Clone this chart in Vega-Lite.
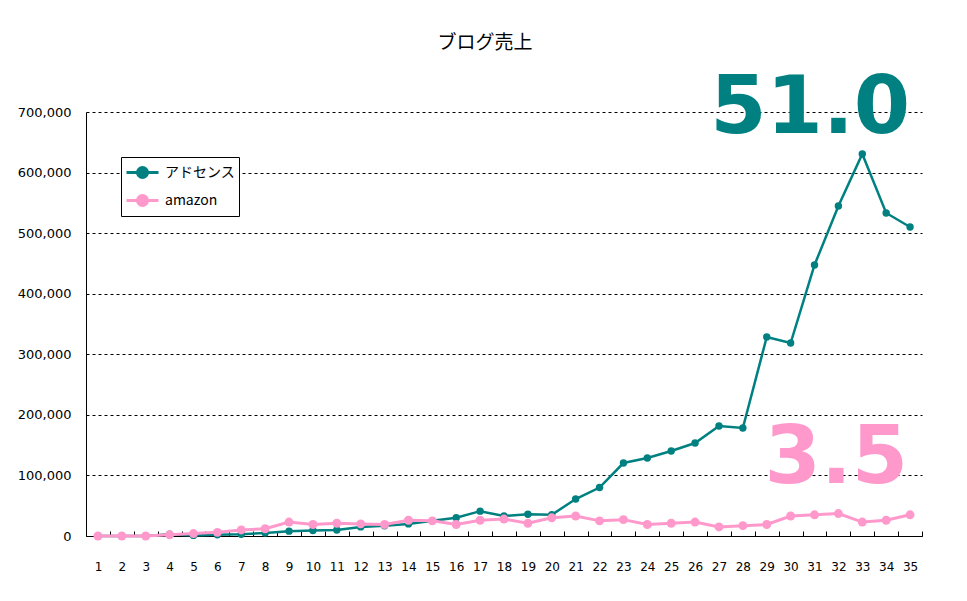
{
  "$schema": "https://vega.github.io/schema/vega-lite/v6.json",
  "autosize": "none",
  "width": 836,
  "height": 424,
  "padding": {"left": 86, "top": 112, "right": 45, "bottom": 65},
  "background": "#ffffff",
  "title": {
    "text": "ブログ売上",
    "font": "Noto Sans CJK JP",
    "fontSize": 19,
    "fontWeight": "normal",
    "color": "#000000",
    "frame": "group",
    "dx": -19,
    "offset": 15
  },
  "datasets": {
    "sales": [
      {"week": 1, "series": "アドセンス", "value": 0},
      {"week": 2, "series": "アドセンス", "value": 0},
      {"week": 3, "series": "アドセンス", "value": 0},
      {"week": 4, "series": "アドセンス", "value": 3000},
      {"week": 5, "series": "アドセンス", "value": 1000},
      {"week": 6, "series": "アドセンス", "value": 2000},
      {"week": 7, "series": "アドセンス", "value": 3000},
      {"week": 8, "series": "アドセンス", "value": 5000},
      {"week": 9, "series": "アドセンス", "value": 8000},
      {"week": 10, "series": "アドセンス", "value": 9000},
      {"week": 11, "series": "アドセンス", "value": 10000},
      {"week": 12, "series": "アドセンス", "value": 15000},
      {"week": 13, "series": "アドセンス", "value": 17000},
      {"week": 14, "series": "アドセンス", "value": 20000},
      {"week": 15, "series": "アドセンス", "value": 25000},
      {"week": 16, "series": "アドセンス", "value": 30000},
      {"week": 17, "series": "アドセンス", "value": 41000},
      {"week": 18, "series": "アドセンス", "value": 33000},
      {"week": 19, "series": "アドセンス", "value": 36000},
      {"week": 20, "series": "アドセンス", "value": 35000},
      {"week": 21, "series": "アドセンス", "value": 61000},
      {"week": 22, "series": "アドセンス", "value": 80000},
      {"week": 23, "series": "アドセンス", "value": 120500},
      {"week": 24, "series": "アドセンス", "value": 128800},
      {"week": 25, "series": "アドセンス", "value": 140300},
      {"week": 26, "series": "アドセンス", "value": 153500},
      {"week": 27, "series": "アドセンス", "value": 181600},
      {"week": 28, "series": "アドセンス", "value": 178300},
      {"week": 29, "series": "アドセンス", "value": 328500},
      {"week": 30, "series": "アドセンス", "value": 318600},
      {"week": 31, "series": "アドセンス", "value": 447400},
      {"week": 32, "series": "アドセンス", "value": 544800},
      {"week": 33, "series": "アドセンス", "value": 630700},
      {"week": 34, "series": "アドセンス", "value": 533300},
      {"week": 35, "series": "アドセンス", "value": 510200},
      {"week": 1, "series": "amazon", "value": 0},
      {"week": 2, "series": "amazon", "value": 0},
      {"week": 3, "series": "amazon", "value": 0},
      {"week": 4, "series": "amazon", "value": 2000},
      {"week": 5, "series": "amazon", "value": 4000},
      {"week": 6, "series": "amazon", "value": 6000},
      {"week": 7, "series": "amazon", "value": 10000},
      {"week": 8, "series": "amazon", "value": 12000},
      {"week": 9, "series": "amazon", "value": 23000},
      {"week": 10, "series": "amazon", "value": 19000},
      {"week": 11, "series": "amazon", "value": 21000},
      {"week": 12, "series": "amazon", "value": 20000},
      {"week": 13, "series": "amazon", "value": 19000},
      {"week": 14, "series": "amazon", "value": 26000},
      {"week": 15, "series": "amazon", "value": 25000},
      {"week": 16, "series": "amazon", "value": 19000},
      {"week": 17, "series": "amazon", "value": 26000},
      {"week": 18, "series": "amazon", "value": 28000},
      {"week": 19, "series": "amazon", "value": 21000},
      {"week": 20, "series": "amazon", "value": 30000},
      {"week": 21, "series": "amazon", "value": 33000},
      {"week": 22, "series": "amazon", "value": 25000},
      {"week": 23, "series": "amazon", "value": 27000},
      {"week": 24, "series": "amazon", "value": 19000},
      {"week": 25, "series": "amazon", "value": 21000},
      {"week": 26, "series": "amazon", "value": 23000},
      {"week": 27, "series": "amazon", "value": 15000},
      {"week": 28, "series": "amazon", "value": 17000},
      {"week": 29, "series": "amazon", "value": 19000},
      {"week": 30, "series": "amazon", "value": 33000},
      {"week": 31, "series": "amazon", "value": 35000},
      {"week": 32, "series": "amazon", "value": 37000},
      {"week": 33, "series": "amazon", "value": 23000},
      {"week": 34, "series": "amazon", "value": 26000},
      {"week": 35, "series": "amazon", "value": 35000}
    ],
    "totals": [
      {"series": "アドセンス", "label": "51.0"},
      {"series": "amazon", "label": "3.5"}
    ]
  },
  "data": {"name": "sales"},
  "encoding": {
    "x": {
      "field": "week",
      "type": "ordinal",
      "scale": {"type": "band", "paddingInner": 0, "paddingOuter": 0},
      "axis": {
        "title": null,
        "labelAngle": 0,
        "labelFont": "DejaVu Sans",
        "labelFontSize": 12,
        "labelColor": "#000000",
        "labelPadding": 30,
        "tickBand": "extent",
        "tickSize": -5,
        "tickColor": "#000000",
        "domainColor": "#000000",
        "grid": false
      }
    },
    "y": {
      "field": "value",
      "type": "quantitative",
      "scale": {"domain": [0, 700000], "nice": false},
      "axis": {
        "title": null,
        "values": [0, 100000, 200000, 300000, 400000, 500000, 600000, 700000],
        "format": ",d",
        "labelFont": "DejaVu Sans",
        "labelFontSize": 13,
        "labelColor": "#000000",
        "labelPadding": 15,
        "ticks": false,
        "domainColor": "#000000",
        "grid": true,
        "gridColor": "#000000",
        "gridDash": [3, 3],
        "gridWidth": 1
      }
    }
  },
  "layer": [
    {
      "transform": [{"filter": "datum.series === 'アドセンス'"}],
      "mark": {"type": "line", "strokeWidth": 2.5},
      "encoding": {
        "color": {
          "field": "series",
          "type": "nominal",
          "scale": {"domain": ["アドセンス", "amazon"], "range": ["#008080", "#ff99cc"]},
          "legend": {
            "title": null,
            "orient": "none",
            "legendX": 35,
            "legendY": 45,
            "strokeColor": "#000000",
            "fillColor": "#ffffff",
            "padding": 4,
            "rowPadding": 5,
            "symbolType": "M-1,0L2.2,0M0.1,0a0.5,0.5 0 1,0 1,0a0.5,0.5 0 1,0 -1,0Z",
            "symbolSize": 400,
            "symbolStrokeWidth": 3,
            "labelFont": "Noto Sans CJK JP",
            "labelFontSize": 14,
            "labelColor": "#000000",
            "labelOffset": 17,
            "encode": {
              "symbols": {"update": {"fill": {"scale": "color", "field": "value"}, "stroke": {"scale": "color", "field": "value"}, "fillOpacity": {"value": 1}}}
            }
          }
        }
      }
    },
    {
      "transform": [{"filter": "datum.series === 'アドセンス'"}],
      "mark": {"type": "point", "shape": "circle", "filled": true, "opacity": 1, "size": 55},
      "encoding": {"color": {"field": "series", "type": "nominal"}}
    },
    {
      "transform": [{"filter": "datum.series === 'amazon'"}],
      "mark": {"type": "line", "strokeWidth": 3},
      "encoding": {"color": {"field": "series", "type": "nominal"}}
    },
    {
      "transform": [{"filter": "datum.series === 'amazon'"}],
      "mark": {"type": "point", "shape": "circle", "filled": true, "opacity": 1, "size": 80},
      "encoding": {"color": {"field": "series", "type": "nominal"}}
    },
    {
      "transform": [
        {"filter": "datum.series === 'アドセンス' && datum.week === 35"},
        {"lookup": "series", "from": {"data": {"name": "totals"}, "key": "series", "fields": ["label"]}}
      ],
      "mark": {"type": "text", "align": "right", "baseline": "alphabetic", "dy": -94, "font": "DejaVu Sans", "fontWeight": "bold", "fontSize": 81, "fill": "#008080"},
      "encoding": {
        "text": {"field": "label", "type": "nominal"}
      }
    },
    {
      "transform": [
        {"filter": "datum.series === 'amazon' && datum.week === 35"},
        {"lookup": "series", "from": {"data": {"name": "totals"}, "key": "series", "fields": ["label"]}}
      ],
      "mark": {"type": "text", "align": "right", "baseline": "alphabetic", "dy": -32, "dx": -2, "font": "DejaVu Sans", "fontWeight": "bold", "fontSize": 81, "fill": "#ff99cc"},
      "encoding": {
        "text": {"field": "label", "type": "nominal"}
      }
    }
  ],
  "config": {
    "view": {"stroke": null}
  }
}
